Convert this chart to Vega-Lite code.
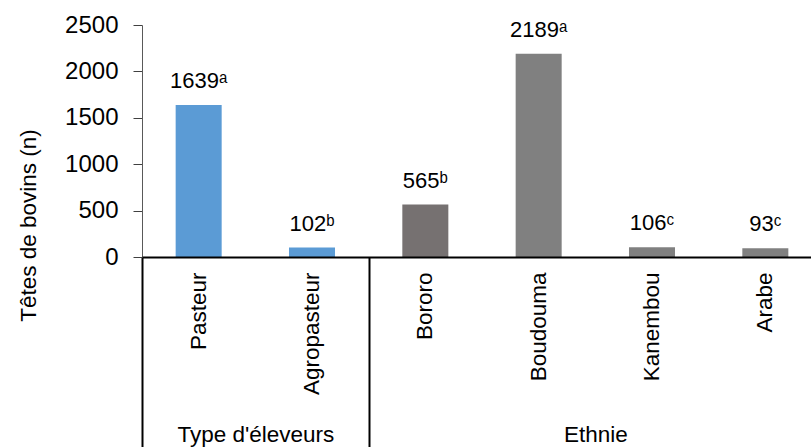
{
  "$schema": "https://vega.github.io/schema/vega-lite/v6.json",
  "width": 680,
  "height": 232,
  "autosize": {"type": "none"},
  "padding": {"left": 142, "top": 25, "right": 0, "bottom": 190},
  "background": "white",
  "config": {
    "font": "Liberation Sans",
    "view": {"stroke": null},
    "axis": {"labelColor": "black", "titleColor": "black", "grid": false}
  },
  "datasets": {
    "bovins": [
      {"categorie": "Pasteur", "groupe": "Type d'éleveurs", "tetes": 1639, "lettre": "a"},
      {"categorie": "Agropasteur", "groupe": "Type d'éleveurs", "tetes": 102, "lettre": "b"},
      {"categorie": "Bororo", "groupe": "Ethnie", "tetes": 565, "lettre": "b"},
      {"categorie": "Boudouma", "groupe": "Ethnie", "tetes": 2189, "lettre": "a"},
      {"categorie": "Kanembou", "groupe": "Ethnie", "tetes": 106, "lettre": "c"},
      {"categorie": "Arabe", "groupe": "Ethnie", "tetes": 93, "lettre": "c"}
    ],
    "groupes": [
      {"groupe": "Type d'éleveurs", "milieu": 1},
      {"groupe": "Ethnie", "milieu": 4}
    ]
  },
  "layer": [
    {
      "data": {"name": "bovins"},
      "encoding": {
        "x": {
          "field": "categorie",
          "type": "nominal",
          "sort": null,
          "scale": {"paddingInner": 0.594, "paddingOuter": 0.297},
          "axis": {
            "orient": "bottom",
            "title": null,
            "labelAngle": -90,
            "labelAlign": "right",
            "labelBaseline": "middle",
            "labelPadding": 15,
            "labelFontSize": 22.5,
            "ticks": false,
            "domainColor": "black",
            "domainWidth": 2,
            "zindex": 1
          }
        },
        "y": {
          "field": "tetes",
          "type": "quantitative",
          "scale": {"domain": [0, 2500], "nice": false},
          "axis": {
            "title": "Têtes de bovins (n)",
            "values": [0, 500, 1000, 1500, 2000, 2500],
            "format": "d",
            "tickSize": 9,
            "tickColor": "#404040",
            "domainColor": "#595959",
            "domainWidth": 1,
            "labelPadding": 15,
            "labelFontSize": 24,
            "titleFontSize": 22.5,
            "titleFontWeight": "normal",
            "titleAngle": -90,
            "titleAlign": "center",
            "titleBaseline": "middle",
            "titleX": -114,
            "titleY": 200
          }
        }
      },
      "layer": [
        {
          "mark": {"type": "bar"},
          "encoding": {
            "color": {
              "field": "categorie",
              "type": "nominal",
              "scale": {
                "domain": ["Pasteur", "Agropasteur", "Bororo", "Boudouma", "Kanembou", "Arabe"],
                "range": ["#5B9BD5", "#5B9BD5", "#767171", "#808080", "#808080", "#808080"]
              },
              "legend": null
            }
          }
        },
        {
          "transform": [
            {"calculate": "datum.tetes + (datum.lettre == 'a' ? 'ᵃ' : datum.lettre == 'b' ? 'ᵇ' : 'ᶜ')", "as": "etiquette"}
          ],
          "mark": {"type": "text", "baseline": "alphabetic", "dy": -17, "fontSize": 22, "color": "black"},
          "encoding": {"text": {"field": "etiquette", "type": "nominal"}}
        }
      ]
    },
    {
      "data": {"name": "groupes"},
      "mark": {"type": "point", "opacity": 0},
      "encoding": {
        "x": {
          "field": "milieu",
          "type": "quantitative",
          "scale": {"domain": [0, 6], "nice": false, "zero": false},
          "axis": {
            "orient": "bottom",
            "title": null,
            "values": [0, 1, 2, 4, 6],
            "domain": false,
            "tickSize": 190,
            "tickWidth": 2,
            "tickColor": "black",
            "tickOpacity": {"condition": {"test": "datum.value == 1 || datum.value == 4", "value": 0}, "value": 1},
            "labelExpr": "datum.value == 1 ? \"Type d'éleveurs\" : (datum.value == 4 ? \"Ethnie\" : \"\")",
            "labelFontSize": 22.5,
            "labelBaseline": "alphabetic",
            "labelPadding": -6,
            "labelFlush": false,
            "labelOverlap": false,
            "labelBound": false
          }
        }
      }
    }
  ],
  "resolve": {"scale": {"x": "independent", "color": "independent"}}
}
